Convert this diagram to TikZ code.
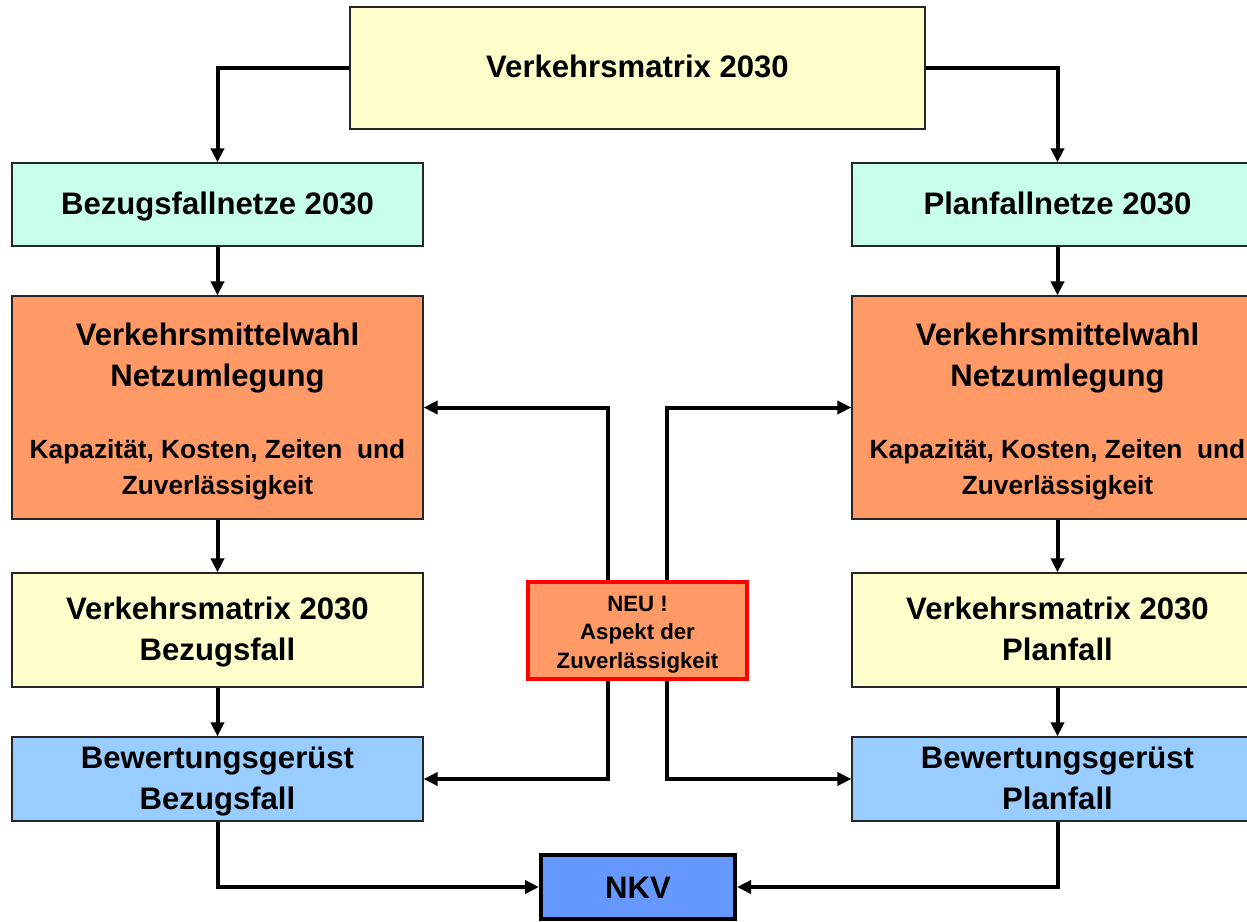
\documentclass[tikz,border=0pt]{standalone}
\usepackage{fontspec}
\setmainfont{Liberation Sans}
\usetikzlibrary{arrows.meta}

\definecolor{paleyellow}{RGB}{255,255,204}
\definecolor{mint}{RGB}{200,255,236}
\definecolor{salmon}{RGB}{255,153,102}
\definecolor{skyblue}{RGB}{153,204,255}
\definecolor{nkvblue}{RGB}{102,153,255}

\newcommand{\bigfont}{\fontsize{31.1}{41}\selectfont}
\newcommand{\smallfont}{\fontsize{26.3}{36}\selectfont}
\newcommand{\neufont}{\fontsize{22.2}{27.5}\selectfont}
\newcommand{\bs}{\rule[-7pt]{0pt}{33.5pt}}
\newcommand{\topstrut}{\rule[-7pt]{0pt}{38.5pt}}
\newcommand{\smallline}{\smallfont\rule[-6pt]{0pt}{26pt}}
\newcommand{\neustrut}{\rule[-1pt]{0pt}{25pt}}

\begin{document}
\begin{tikzpicture}[x=1pt, y=-1pt,
  box/.style={draw=black!85, line width=1.2pt, inner sep=0pt, align=center, font=\bfseries\bigfont},
  col/.style={minimum width=411pt},
  link/.style={line width=4pt, -{Triangle[length=14pt,width=13pt]}}]
\useasboundingbox (0,0) rectangle (1247,921);
\clip (0,0) rectangle (1247,921);

\node[box, fill=paleyellow, minimum width=575pt, minimum height=122pt] (v0) at (637.5,68) {\bs Verkehrsmatrix 2030};
\node[box, col, fill=mint, minimum height=83pt] (v1) at (217.5,204.5) {\bs Bezugsfallnetze 2030};
\node[box, col, fill=mint, minimum height=83pt] (v2) at (1057.5,204.5) {\bs Planfallnetze 2030};
\node[box, col, fill=salmon, minimum height=223pt] (v3) at (217.5,407.5) {\topstrut Verkehrsmittelwahl\\\bs Netzumlegung\\[31pt]\smallline Kapazität, Kosten, Zeiten\ \ und\\[-5pt]\smallline Zuverlässigkeit};
\node[box, col, fill=salmon, minimum height=223pt] (v4) at (1057.5,407.5) {\topstrut Verkehrsmittelwahl\\\bs Netzumlegung\\[31pt]\smallline Kapazität, Kosten, Zeiten\ \ und\\[-5pt]\smallline Zuverlässigkeit};
\node[box, col, fill=paleyellow, minimum height=114pt] (v5) at (217.5,630) {\bs Verkehrsmatrix 2030\\\bs Bezugsfall};
\node[box, col, fill=paleyellow, minimum height=114pt] (v6) at (1057.5,630) {\bs Verkehrsmatrix 2030\\\bs Planfall};
\node[box, col, fill=skyblue, minimum height=84pt] (v7) at (217.5,779) {\bs Bewertungsgerüst\\\bs Bezugsfall};
\node[box, col, fill=skyblue, minimum height=84pt] (v8) at (1057.5,779) {\bs Bewertungsgerüst\\\bs Planfall};
\node[box, draw=red, line width=3.5pt, fill=salmon, minimum width=219pt, minimum height=97pt, font=\bfseries\neufont] (v9) at (637.5,630.5) {\neustrut NEU !\\\neustrut Aspekt der\\\neustrut Zuverlässigkeit};
\node[box, draw=black, line width=4pt, fill=nkvblue, minimum width=194pt, minimum height=64pt] (v10) at (638,887) {\rule[-7pt]{0pt}{36pt}NKV};

\draw[link] (v0.west) -| (v1.north);
\draw[link] (v0.east) -| (v2.north);
\draw[link] (v1) -- (v3);
\draw[link] (v2) -- (v4);
\draw[link] (v3) -- (v5);
\draw[link] (v4) -- (v6);
\draw[link] (v5) -- (v7);
\draw[link] (v6) -- (v8);
\draw[link] ([xshift=-29.5pt]v9.north) |- (v3.east);
\draw[link] ([xshift=29.5pt]v9.north) |- (v4.west);
\draw[link] ([xshift=-29.5pt]v9.south) |- (v7.east);
\draw[link] ([xshift=29.5pt]v9.south) |- (v8.west);
\draw[link] (v7.south) |- (v10.west);
\draw[link] (v8.south) |- (v10.east);
\end{tikzpicture}
\end{document}
